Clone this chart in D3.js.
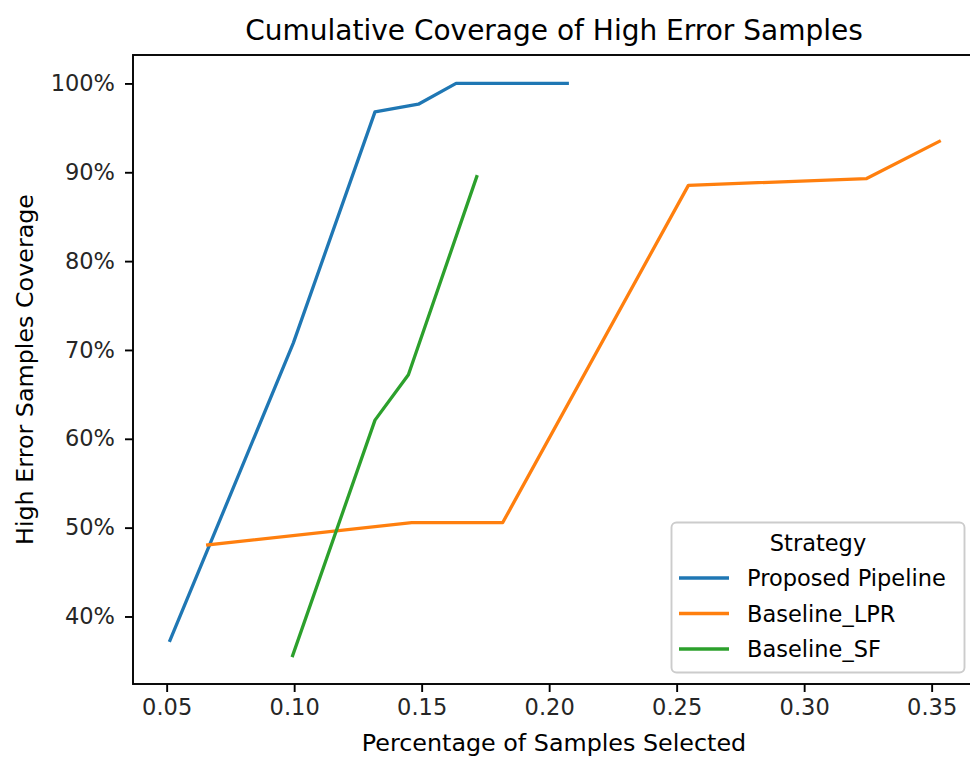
<!DOCTYPE html>
<html>
<head>
<meta charset="utf-8">
<script src="https://cdn.jsdelivr.net/npm/d3@7"></script>
<style>
  html, body { margin: 0; padding: 0; background: #fff; }
  svg { display: block; font-family: "DejaVu Sans", sans-serif; }
</style>
</head>
<body>
<svg id="chart" width="970" height="761"></svg>
<script>
// ---- data ----
const seriesNames = ["Proposed Pipeline", "Baseline_LPR", "Baseline_SF"];
const seriesColors = ["#1f77b4", "#ff7f0e", "#2ca02c"];
const xProposed = [0.0513, 0.0997, 0.1317, 0.1487, 0.1635, 0.2071];
const yProposed = [0.373, 0.708, 0.968, 0.9766, 1.0, 1.0];
const xLPR = [0.0661, 0.1461, 0.1818, 0.2546, 0.3245, 0.3530];
const yLPR = [0.4806, 0.5057, 0.5057, 0.8853, 0.8929, 0.9348];
const xSF = [0.0994, 0.1317, 0.1448, 0.1716];
const ySF = [0.356, 0.621, 0.672, 0.895];
const xTicks = [0.05, 0.10, 0.15, 0.20, 0.25, 0.30, 0.35];
const yTicks = [0.4, 0.5, 0.6, 0.7, 0.8, 0.9, 1.0];
const titleText = "Cumulative Coverage of High Error Samples";
const xLabelText = "Percentage of Samples Selected";
const yLabelText = "High Error Samples Coverage";
const legendTitle = "Strategy";

const series = [
  { name: seriesNames[0], color: seriesColors[0], pts: xProposed.map((x, i) => [x, yProposed[i]]) },
  { name: seriesNames[1], color: seriesColors[1], pts: xLPR.map((x, i) => [x, yLPR[i]]) },
  { name: seriesNames[2], color: seriesColors[2], pts: xSF.map((x, i) => [x, ySF[i]]) }
];

// ---- layout ----
const svg = d3.select("#chart");
const L = 133, R = 975, T = 55, B = 684;
const x = d3.scaleLinear().domain([0.0368, 0.367]).range([L, R]);
const y = d3.scaleLinear().domain([0.324, 1.032]).range([B, T]);
const tickFont = 22.5, labelFont = 23.8, titleFont = 28;
const spineW = 1.9;

// lines
const line = d3.line().x(d => x(d[0])).y(d => y(d[1]));
svg.append("g").selectAll("path").data(series).join("path")
  .attr("d", d => line(d.pts))
  .attr("fill", "none")
  .attr("stroke", d => d.color)
  .attr("stroke-width", 3.3)
  .attr("stroke-linejoin", "round")
  .attr("stroke-linecap", "square");

// axes
const xAxis = d3.axisBottom(x).tickValues(xTicks).tickFormat(d3.format(".2f"))
  .tickSizeInner(8).tickSizeOuter(0).tickPadding(7);
const yAxis = d3.axisLeft(y).tickValues(yTicks).tickFormat(d3.format(".0%"))
  .tickSizeInner(8).tickSizeOuter(0).tickPadding(10);

const gx = svg.append("g").attr("transform", `translate(0,${B})`).call(xAxis);
const gy = svg.append("g").attr("transform", `translate(${L},0)`).call(yAxis);
[gx, gy].forEach(g => {
  g.select(".domain").remove();
  g.selectAll(".tick line").attr("stroke", "#000").attr("stroke-width", spineW);
  g.selectAll(".tick text").attr("fill", "#262626")
    .style("font-family", "DejaVu Sans").style("font-size", tickFont + "px");
});

// spines
svg.append("rect")
  .attr("x", L).attr("y", T).attr("width", R - L).attr("height", B - T)
  .attr("fill", "none").attr("stroke", "#000").attr("stroke-width", spineW);

// title & labels
svg.append("text").attr("x", (L + R) / 2).attr("y", 40)
  .attr("text-anchor", "middle").style("font-size", titleFont + "px").attr("fill", "#000")
  .text(titleText);
svg.append("text").attr("x", (L + R) / 2).attr("y", 751)
  .attr("text-anchor", "middle").style("font-size", labelFont + "px").attr("fill", "#000")
  .text(xLabelText);
svg.append("text").attr("transform", `translate(33,${(T + B) / 2}) rotate(-90)`)
  .attr("text-anchor", "middle").style("font-size", labelFont + "px").attr("fill", "#000")
  .text(yLabelText);

// legend
const lg = svg.append("g");
lg.append("rect").attr("x", 671.5).attr("y", 522.5).attr("width", 293).attr("height", 150)
  .attr("rx", 5).attr("fill", "#fff").attr("fill-opacity", 0.8)
  .attr("stroke", "#cccccc").attr("stroke-width", 1.9);
lg.append("text").attr("x", 818).attr("y", 551).attr("text-anchor", "middle")
  .style("font-size", tickFont + "px").attr("fill", "#000").text(legendTitle);
const rows = lg.selectAll("g.row").data(series).join("g").attr("class", "row")
  .attr("transform", (d, i) => `translate(0,${578 + i * 35.5})`);
rows.append("line").attr("x1", 679).attr("x2", 729).attr("y1", 0).attr("y2", 0)
  .attr("stroke", d => d.color).attr("stroke-width", 3.3);
rows.append("text").attr("x", 747).attr("y", 8)
  .style("font-size", tickFont + "px").attr("fill", "#000").text(d => d.name);
</script>
</body>
</html>
